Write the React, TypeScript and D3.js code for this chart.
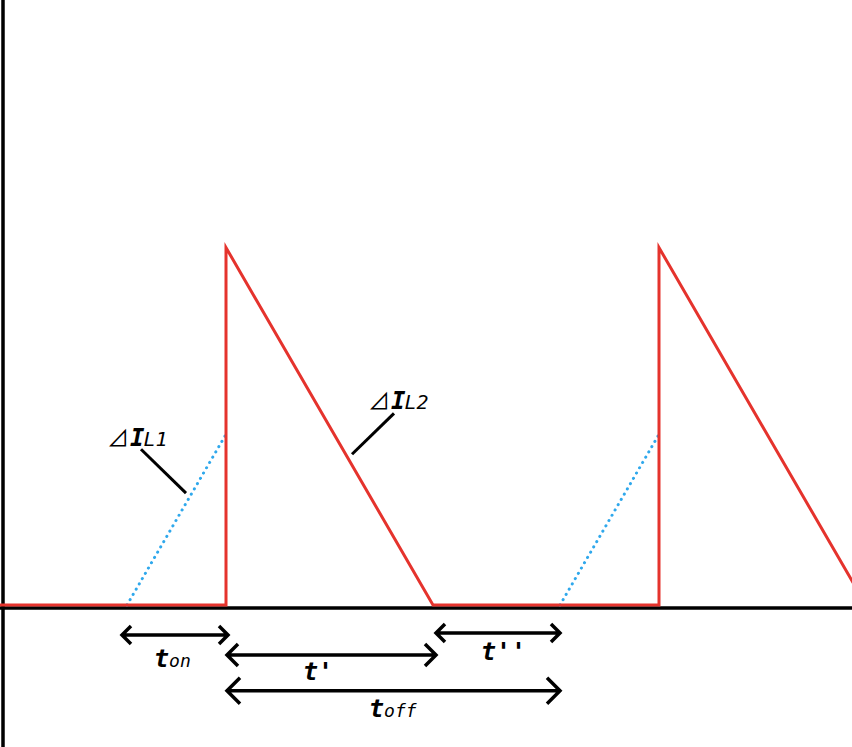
import { useEffect, useRef } from 'react';
import * as d3 from 'd3';

// time in arbitrary units, current in arbitrary units
const inductorCurrent: [number, number][] = [
  [0, 0], [2.26, 0], [2.26, 3.58], [4.33, 0], [6.59, 0], [6.59, 3.58], [8.66, 0],
];
const rampOn1: [number, number][] = [[1.27, 0], [2.26, 1.71]];
const rampOn2: [number, number][] = [[5.6, 0], [6.59, 1.71]];

// dimension arrows: [start, end, level, label main, label sub]
const spans = [
  { from: 1.22, to: 2.28, y: -0.3, main: 't', sub: 'on', lx: 1.54, ly: -0.62, head: 9 },
  { from: 2.27, to: 4.36, y: -0.5, main: "t'", sub: '', lx: 3.03, ly: -0.75, head: 11 },
  { from: 4.36, to: 5.6, y: -0.28, main: "t''", sub: '', lx: 4.81, ly: -0.55, head: 9 },
  { from: 2.27, to: 5.6, y: -0.86, main: 't', sub: 'off', lx: 3.69, ly: -1.12, head: 13 },
];

const deltaLabels = [
  { sub: 'L1', tx: 1.07, ty: 1.59, from: [1.41, 1.56], to: [1.86, 1.12] },
  { sub: 'L2', tx: 3.68, ty: 1.96, from: [3.94, 1.92], to: [3.52, 1.51] },
];

const W = 852;
const H = 747;

const App = () => {
  const ref = useRef<SVGSVGElement | null>(null);

  useEffect(() => {
    const svg = d3.select(ref.current);
    svg.selectAll('*').remove();

    const x = d3.scaleLinear().domain([0, 8.52]).range([0, W]);
    const y = d3.scaleLinear().domain([0, 6.06]).range([605, 0]);

    const line = d3.line<[number, number]>()
      .x(d => x(d[0]))
      .y(d => y(d[1]));

    // axes
    svg.append('line')
      .attr('x1', 3).attr('x2', 3).attr('y1', 0).attr('y2', H)
      .attr('stroke', '#000').attr('stroke-width', 3.5);
    svg.append('line')
      .attr('x1', 0).attr('x2', W).attr('y1', y(0) + 3).attr('y2', y(0) + 3)
      .attr('stroke', '#000').attr('stroke-width', 3.5);

    // dotted ramps
    ;[rampOn1, rampOn2].forEach(r => {
      svg.append('path')
        .datum(r)
        .attr('d', line)
        .attr('fill', 'none')
        .attr('stroke', '#2fa8ec')
        .attr('stroke-width', 3)
        .attr('stroke-linecap', 'round')
        .attr('stroke-dasharray', '0.1 6');
    });

    svg.append('path')
      .datum(inductorCurrent)
      .attr('d', line)
      .attr('fill', 'none')
      .attr('stroke', '#e5332d')
      .attr('stroke-width', 3);

    // leader lines + delta labels
    deltaLabels.forEach(l => {
      svg.append('line')
        .attr('x1', x(l.from[0])).attr('y1', y(l.from[1]))
        .attr('x2', x(l.to[0])).attr('y2', y(l.to[1]))
        .attr('stroke', '#000').attr('stroke-width', 3);
      const t = svg.append('text')
        .attr('x', x(l.tx)).attr('y', y(l.ty))
        .attr('font-family', 'DejaVu Sans Mono')
        .attr('fill', '#000');
      t.append('tspan').attr('font-family', 'Noto Sans CJK JP').attr('font-size', 22).text('⊿');
      t.append('tspan').attr('font-size', 24).attr('font-weight', 'bold').attr('font-style', 'italic').attr('dx', 1).text('I');
      t.append('tspan').attr('font-size', 20).attr('font-style', 'italic').attr('dx', -1).text(l.sub);
    });

    // dimension arrows
    spans.forEach(s => {
      const x1 = x(s.from), x2 = x(s.to), yy = y(s.y), h = s.head;
      const p = d3.path();
      p.moveTo(x1, yy); p.lineTo(x2, yy);
      p.moveTo(x1 + h, yy - h); p.lineTo(x1, yy); p.lineTo(x1 + h, yy + h);
      p.moveTo(x2 - h, yy - h); p.lineTo(x2, yy); p.lineTo(x2 - h, yy + h);
      svg.append('path')
        .attr('d', p.toString())
        .attr('fill', 'none')
        .attr('stroke', '#000')
        .attr('stroke-width', 3.5);
      const t = svg.append('text')
        .attr('x', x(s.lx)).attr('y', y(s.ly))
        .attr('font-family', 'DejaVu Sans Mono')
        .attr('font-weight', 'bold')
        .attr('font-style', 'italic')
        .attr('fill', '#000');
      t.append('tspan').attr('font-size', 25).text(s.main);
      if (s.sub) t.append('tspan').attr('font-size', 18).attr('font-weight', 'normal').text(s.sub);
    });
  }, []);

  return (
    <svg ref={ref} width={W} height={H}
      style={{ position: 'absolute', left: 0, top: 0, background: '#fff' }} />
  );
};

export default App;
